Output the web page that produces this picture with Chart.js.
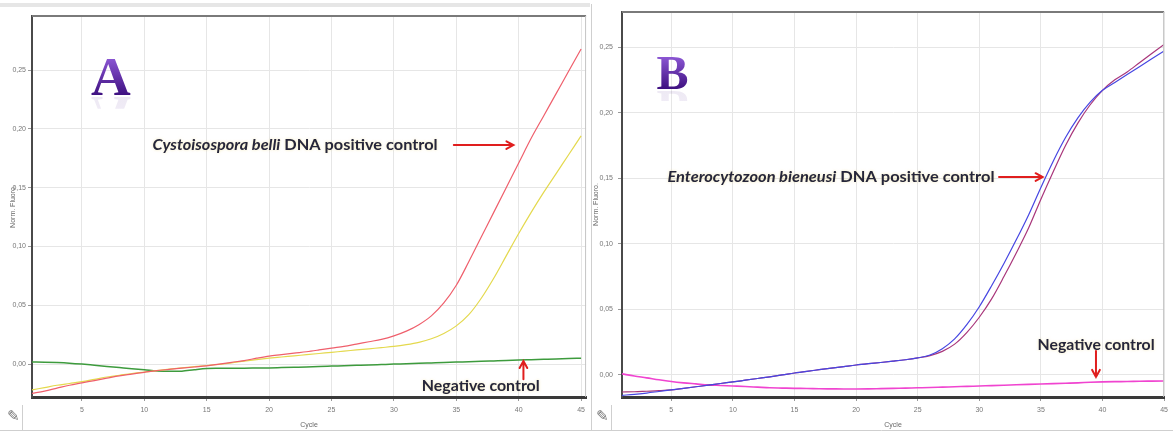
<!DOCTYPE html>
<html>
<head>
<meta charset="utf-8">
<script src="https://cdn.jsdelivr.net/npm/chart.js@4.4.1/dist/chart.umd.min.js"></script>
<style>
  body { margin: 0; background: #fff; width: 1173px; height: 433px; overflow: hidden; position: relative; }
  canvas { position: absolute; top: 0; }
  #chartA { left: 0; }
  #chartB { left: 590px; }
</style>
</head>
<body>
<canvas id="chartA" width="590" height="433"></canvas>
<canvas id="chartB" width="583" height="433"></canvas>
<script>
// Cycle numbers (x axis) and tick labels
const cycles = [1, 2, 3, 4, 5, 6, 7, 8, 9, 10, 11, 12, 13, 14, 15, 16, 17, 18, 19, 20, 21, 22, 23,
    24, 25, 26, 27, 28, 29, 30, 31, 32, 33, 34, 35, 36, 37, 38, 39, 40, 41, 42, 43, 44, 45];
const xTicks = [5, 10, 15, 20, 25, 30, 35, 40, 45];
const yTicks = [0, 0.05, 0.10, 0.15, 0.20, 0.25];
const yTickLabels = ['0,00', '0,05', '0,10', '0,15', '0,20', '0,25'];

// Panel A - Cystoisospora belli
const bellyRed = [-0.025, -0.023, -0.0205, -0.018, -0.016, -0.014, -0.012, -0.010, -0.0085, -0.007,
    -0.0055, -0.0045, -0.0035, -0.0025, -0.0015, 0.000, 0.0015, 0.003, 0.005, 0.0068,
    0.008, 0.0093, 0.0105, 0.012, 0.0136, 0.015, 0.017, 0.019, 0.021, 0.024,
    0.028, 0.0335, 0.041, 0.052, 0.067, 0.087, 0.108, 0.129, 0.150, 0.171,
    0.192, 0.211, 0.230, 0.249, 0.268];
const bellyYellow = [-0.022, -0.020, -0.018, -0.0165, -0.015, -0.013, -0.011, -0.0095, -0.008, -0.0068,
    -0.0055, -0.0043, -0.0032, -0.0022, -0.0012, -0.0002, 0.001, 0.0025, 0.0038, 0.005,
    0.006, 0.007, 0.008, 0.009, 0.010, 0.011, 0.012, 0.013, 0.014, 0.015,
    0.0165, 0.0185, 0.0215, 0.026, 0.0325, 0.042, 0.056, 0.073, 0.092, 0.111,
    0.129, 0.146, 0.162, 0.178, 0.194];
const bellyNegative = [0.0017, 0.0016, 0.0013, 0.0008, 0.0, -0.001, -0.002, -0.003, -0.004, -0.0048,
    -0.0058, -0.0062, -0.006, -0.0048, -0.0038, -0.0036, -0.0035, -0.0035, -0.0034, -0.0033,
    -0.003, -0.0027, -0.0024, -0.002, -0.0017, -0.0014, -0.0011, -0.0008, -0.0004, 0.0,
    0.0003, 0.0007, 0.001, 0.0013, 0.0017, 0.002, 0.0024, 0.0027, 0.003, 0.0034,
    0.0037, 0.004, 0.0043, 0.0047, 0.005];

// Panel B - Enterocytozoon bieneusi
const bieneusiBlue = [-0.0155, -0.0148, -0.0138, -0.0126, -0.0114, -0.0102, -0.009, -0.0078, -0.0065, -0.0053,
    -0.004, -0.0027, -0.0014, 0.0, 0.0015, 0.0028, 0.004, 0.0052, 0.0064, 0.0076,
    0.0086, 0.0095, 0.0105, 0.0116, 0.013, 0.0152, 0.020, 0.0275, 0.0385, 0.052,
    0.068, 0.085, 0.103, 0.122, 0.143, 0.163, 0.181, 0.196, 0.208, 0.217,
    0.223, 0.229, 0.235, 0.241, 0.247];
const bieneusiPurple = [-0.013, -0.0128, -0.0124, -0.012, -0.0114, -0.0102, -0.009, -0.0078, -0.0065, -0.0053,
    -0.004, -0.0027, -0.0014, 0.0, 0.0015, 0.0028, 0.004, 0.0052, 0.0064, 0.0076,
    0.0086, 0.0095, 0.0105, 0.0116, 0.013, 0.0148, 0.018, 0.0235, 0.0325, 0.044,
    0.058, 0.075, 0.093, 0.112, 0.134, 0.155, 0.175, 0.192, 0.206, 0.217,
    0.225, 0.231, 0.238, 0.245, 0.252];
const bieneusiNegative = [0.0008, -0.0008, -0.0022, -0.0037, -0.005, -0.006, -0.0068, -0.0076, -0.008, -0.0084,
    -0.0088, -0.0093, -0.0098, -0.010, -0.0102, -0.0103, -0.0105, -0.0106, -0.0107, -0.0107,
    -0.0106, -0.0104, -0.0102, -0.010, -0.0098, -0.0096, -0.0093, -0.009, -0.0087, -0.0084,
    -0.0081, -0.0078, -0.0075, -0.0072, -0.0069, -0.0066, -0.0063, -0.006, -0.0056, -0.0053,
    -0.0051, -0.005, -0.0048, -0.0047, -0.0046];

const textFont = 'Lato, "Open Sans", sans-serif';
const arrowColor = '#e01e1e';

// Big serif panel letter with a faint mirror image under it
function drawLetter(ctx, letter, x, y, size) {
    const capH = size * 0.66;
    ctx.save();
    ctx.font = 'bold ' + size + 'px "Liberation Serif", "DejaVu Serif", serif';
    ctx.textAlign = 'center';
    ctx.textBaseline = 'alphabetic';
    let grad = ctx.createLinearGradient(0, y - capH, 0, y);
    grad.addColorStop(0, '#8a55d2');
    grad.addColorStop(1, '#3e1080');
    ctx.fillStyle = grad;
    ctx.fillText(letter, x, y);
    ctx.beginPath();
    ctx.rect(x - size, y + 1, size * 2, capH * 0.35);
    ctx.clip();
    ctx.translate(0, 2 * y + 2);
    ctx.scale(1, -1);
    ctx.globalAlpha = 0.09;
    ctx.fillText(letter, x, y);
    ctx.restore();
}

// Label made of italic / normal bold parts, squeezed to the given width
function drawNote(ctx, note, x, y) {
    ctx.save();
    ctx.textBaseline = 'middle';
    ctx.fillStyle = '#26263a';
    let widths = note.parts.map(p => {
        ctx.font = (p.italic ? 'italic ' : '') + 'bold 15px ' + textFont;
        return ctx.measureText(p.text).width;
    });
    let total = widths.reduce((a, b) => a + b, 0);
    ctx.translate(x, y);
    ctx.scale(note.width / total, 1);
    ctx.shadowColor = 'rgba(235, 215, 120, 0.55)';
    ctx.shadowBlur = 3;
    let pos = 0;
    note.parts.forEach((p, i) => {
        ctx.font = (p.italic ? 'italic ' : '') + 'bold 15px ' + textFont;
        ctx.fillText(p.text, pos, 0);
        pos += widths[i];
    });
    ctx.restore();
}

function drawArrow(ctx, x1, y1, x2, y2) {
    const ang = Math.atan2(y2 - y1, x2 - x1);
    const head = 8;
    ctx.save();
    ctx.strokeStyle = arrowColor;
    ctx.lineWidth = 2;
    ctx.lineCap = 'round';
    ctx.beginPath();
    ctx.moveTo(x1, y1);
    ctx.lineTo(x2, y2);
    ctx.moveTo(x2 - head * Math.cos(ang - 0.5), y2 - head * Math.sin(ang - 0.5));
    ctx.lineTo(x2, y2);
    ctx.lineTo(x2 - head * Math.cos(ang + 0.5), y2 - head * Math.sin(ang + 0.5));
    ctx.stroke();
    ctx.restore();
}

// Draws the letter, labels and arrows, anchored on the data scales
function notesPlugin(notes) {
    return {
        id: 'notes',
        afterDatasetsDraw(chart) {
            const ctx = chart.ctx;
            const xs = chart.scales.x;
            const ys = chart.scales.y;
            drawLetter(ctx, notes.letter.text, xs.getPixelForValue(notes.letter.x),
                ys.getPixelForValue(notes.letter.y), notes.letter.size);
            notes.labels.forEach(n => {
                drawNote(ctx, n, xs.getPixelForValue(n.x), ys.getPixelForValue(n.y));
            });
            notes.arrows.forEach(a => {
                drawArrow(ctx, xs.getPixelForValue(a.x1), ys.getPixelForValue(a.y1),
                    xs.getPixelForValue(a.x2), ys.getPixelForValue(a.y2));
            });
        }
    };
}

// Plot box top/right edges and panel decoration
function framePlugin(panel) {
    return {
        id: 'frame',
        beforeDraw(chart) {
            const ctx = chart.ctx;
            const w = chart.width;
            ctx.save();
            ctx.fillStyle = '#ffffff';
            ctx.fillRect(0, 0, w, chart.height);
            if (panel.topBand) {
                ctx.fillStyle = '#e6e6e6';
                ctx.fillRect(0, 3, w, 4);
            }
            ctx.strokeStyle = '#cfcfcf';
            ctx.lineWidth = 1;
            ctx.beginPath();
            ctx.moveTo(0, 430.5);
            ctx.lineTo(w, 430.5);
            if (panel.leftLine) {
                ctx.moveTo(1.5, 4);
                ctx.lineTo(1.5, 431);
            }
            ctx.moveTo(panel.iconX + 13.5, 405);
            ctx.lineTo(panel.iconX + 13.5, 431);
            ctx.stroke();
            ctx.fillStyle = '#777';
            ctx.font = '15px "DejaVu Sans", sans-serif';
            ctx.textBaseline = 'middle';
            ctx.fillText('\u270E', panel.iconX - 2, 417);
            ctx.restore();
        },
        afterDraw(chart) {
            const a = chart.chartArea;
            const ctx = chart.ctx;
            ctx.save();
            ctx.strokeStyle = '#7a7a7a';
            ctx.lineWidth = 2;
            ctx.beginPath();
            ctx.moveTo(a.left, a.top);
            ctx.lineTo(a.right, a.top);
            ctx.stroke();
            ctx.strokeStyle = '#c4c4c4';
            ctx.lineWidth = 1;
            ctx.beginPath();
            ctx.moveTo(a.right - 0.5, a.top);
            ctx.lineTo(a.right - 0.5, a.bottom);
            ctx.stroke();
            ctx.restore();
        }
    };
}

function line(data, color, width) {
    return {
        data: data,
        borderColor: color,
        borderWidth: width,
        pointRadius: 0,
        fill: false,
        cubicInterpolationMode: 'monotone'
    };
}

function makeChart(id, datasets, panel, notes) {
    return new Chart(document.getElementById(id), {
        type: 'line',
        data: { labels: cycles, datasets: datasets },
        options: {
            responsive: false,
            animation: false,
            devicePixelRatio: 1,
            layout: { padding: { top: panel.top, right: panel.right, left: 0, bottom: 0 } },
            plugins: { legend: { display: false }, tooltip: { enabled: false } },
            scales: {
                x: {
                    type: 'linear',
                    min: 1,
                    max: panel.xMax,
                    afterBuildTicks: s => { s.ticks = xTicks.map(v => ({ value: v })); },
                    afterFit: s => { s.height = 433 - panel.bottom; },
                    ticks: {
                        callback: v => String(v),
                        color: '#777',
                        font: { size: 7, family: '"Liberation Sans", sans-serif' },
                        padding: 5,
                        maxRotation: 0
                    },
                    grid: { color: '#e6e6e6', tickLength: 4, tickColor: '#999' },
                    border: { color: '#3a3a3a', width: 3 },
                    title: {
                        display: true,
                        text: 'Cycle',
                        color: '#666',
                        font: { size: 7, family: '"Liberation Sans", sans-serif' },
                        padding: { top: 0, bottom: 4 }
                    }
                },
                y: {
                    min: panel.yMin,
                    max: panel.yMax,
                    afterBuildTicks: s => { s.ticks = yTicks.map(v => ({ value: v })); },
                    afterFit: s => { s.width = panel.left; },
                    ticks: {
                        callback: (v, i) => yTickLabels[i],
                        color: '#777',
                        font: { size: 7, family: '"Liberation Sans", sans-serif' },
                        padding: panel.tickPad
                    },
                    grid: { color: '#e6e6e6', tickLength: 4, tickColor: '#999' },
                    border: { color: '#4a4a4a', width: 2 },
                    title: {
                        display: true,
                        text: 'Norm. Fluoro.',
                        color: '#666',
                        font: { size: 7, family: '"Liberation Sans", sans-serif' },
                        padding: { top: panel.titlePad, bottom: 0 }
                    }
                }
            }
        },
        plugins: [framePlugin(panel), notesPlugin(notes)]
    });
}

// Panel A
const panelA = { left: 32, top: 16, right: 2, bottom: 397, xMax: 45.4, yMin: -0.028, yMax: 0.296,
    tickPad: 2, titlePad: 9, topBand: true, leftLine: false, iconX: 9 };
const notesA = {
    letter: { text: 'A', x: 7.31, y: 0.2287, size: 55 },
    labels: [
        { parts: [{ text: 'Cystoisospora belli', italic: true }, { text: ' DNA positive control', italic: false }],
            x: 10.66, y: 0.1862, width: 285 },
        { parts: [{ text: 'Negative control', italic: false }], x: 32.23, y: -0.0187, width: 118 }
    ],
    arrows: [
        { x1: 34.8, y1: 0.1862, x2: 39.58, y2: 0.1862 },
        { x1: 40.38, y1: -0.0128, x2: 40.38, y2: 0.0026 }
    ]
};
makeChart('chartA', [
    line(bellyRed, '#ef5f6c', 1.2),
    line(bellyYellow, '#e4d94e', 1.2),
    line(bellyNegative, '#3d9b3d', 1.5)
], panelA, notesA);

// Panel B
const panelB = { left: 32, top: 12, right: 3, bottom: 397, xMax: 45, yMin: -0.0168, yMax: 0.2767,
    tickPad: 5, titlePad: 2, topBand: false, leftLine: true, iconX: 8 };
const notesB = {
    letter: { text: 'B', x: 5.1, y: 0.218, size: 48 },
    labels: [
        { parts: [{ text: 'Enterocytozoon bieneusi', italic: true }, { text: ' DNA positive control', italic: false }],
            x: 4.69, y: 0.1509, width: 327 },
        { parts: [{ text: 'Negative control', italic: false }], x: 34.73, y: 0.0229, width: 117 }
    ],
    arrows: [
        { x1: 31.6, y1: 0.1509, x2: 35.14, y2: 0.1509 },
        { x1: 39.47, y1: 0.0183, x2: 39.47, y2: -0.0015 }
    ]
};
makeChart('chartB', [
    line(bieneusiBlue, '#4646e2', 1.2),
    line(bieneusiPurple, '#a8357a', 1.2),
    line(bieneusiNegative, '#f044d0', 1.6)
], panelB, notesB);
</script>
</body>
</html>
